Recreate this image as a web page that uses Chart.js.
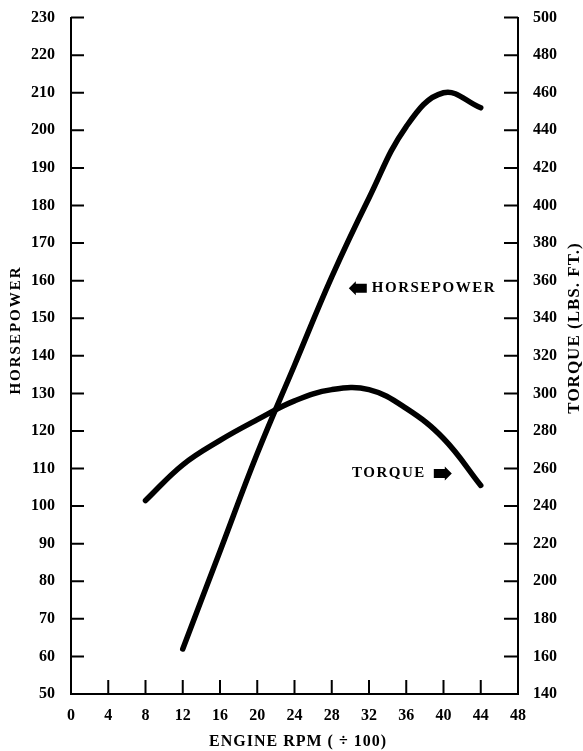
<!DOCTYPE html>
<html>
<head>
<meta charset="utf-8">
<script src="https://cdn.jsdelivr.net/npm/chart.js@4.4.1/dist/chart.umd.min.js"></script>
<style>
  html, body { margin: 0; padding: 0; background: #fff; }
  #wrap { width: 583px; height: 751px; }
</style>
</head>
<body>
<div id="wrap"><canvas id="engine"></canvas></div>
<script>
// values (rpm / 100)
const hpRpm = [12, 16, 20, 24, 28, 32, 36, 40, 44];
const hpValues = [62, 88, 114, 137.5, 161, 182, 201, 210, 206];
const torqueRpm = [8, 12, 16, 20, 24, 28, 32, 36, 40, 44];
const torqueValues = [243, 262, 275, 286, 296, 302, 302, 292, 276, 251];

const hpRange = [50, 230];
const torqueRange = [140, 500];
const rpmRange = [0, 48];

const serif = "'Liberation Serif', 'DejaVu Serif', serif";
const ink = '#000';

function pts(xs, ys) {
  return xs.map((x, i) => ({ x, y: ys[i] }));
}

function fixSize(w, h) {
  return scale => {
    if (w != null) scale.width = w;
    if (h != null) scale.height = h;
  };
}

// inward tick marks, axis titles and the two curve callouts
const decor = {
  id: 'decor',
  afterDraw(chart) {
    const { ctx, chartArea: a, scales } = chart;
    const { x, y, y1 } = scales;
    ctx.save();
    ctx.strokeStyle = ink;
    ctx.fillStyle = ink;
    ctx.lineWidth = 2;
    ctx.beginPath();
    y.ticks.forEach(t => {
      if (t.value === hpRange[0]) return;
      const py = y.getPixelForValue(t.value);
      ctx.moveTo(a.left, py); ctx.lineTo(a.left + 13, py);
    });
    y1.ticks.forEach(t => {
      if (t.value === torqueRange[0]) return;
      const py = y1.getPixelForValue(t.value);
      ctx.moveTo(a.right, py); ctx.lineTo(a.right - 14, py);
    });
    x.ticks.forEach(t => {
      if (t.value === rpmRange[0] || t.value === rpmRange[1]) return;
      const px = x.getPixelForValue(t.value);
      ctx.moveTo(px, a.bottom); ctx.lineTo(px, a.bottom - 14);
    });
    ctx.stroke();

    // axis titles
    ctx.textAlign = 'center';
    ctx.textBaseline = 'middle';
    ctx.letterSpacing = '2px';
    ctx.font = `bold 15px ${serif}`;
    ctx.save();
    ctx.translate(16, 330);
    ctx.rotate(-Math.PI / 2);
    ctx.fillText('HORSEPOWER', 0, 0);
    ctx.restore();

    ctx.letterSpacing = '1px';
    ctx.font = `bold 17px ${serif}`;
    ctx.save();
    ctx.translate(575, 328);
    ctx.rotate(-Math.PI / 2);
    ctx.fillText('TORQUE (LBS. FT.)', 0, 0);
    ctx.restore();

    ctx.font = `bold 16px ${serif}`;
    ctx.fillText('ENGINE RPM ( \u00f7 100)', 298, 742);

    // callouts
    ctx.letterSpacing = '1.5px';
    ctx.font = `bold 15px ${serif}`;
    ctx.textAlign = 'left';
    const hx = x.getPixelForValue(32.3);
    const hy = y.getPixelForValue(158);
    ctx.fillText('HORSEPOWER', hx, hy);
    blockArrow(ctx, hx - 5, hy, -1);

    ctx.textAlign = 'right';
    const tx = x.getPixelForValue(38.1);
    const ty = y.getPixelForValue(108.7);
    ctx.fillText('TORQUE', tx, ty);
    blockArrow(ctx, tx + 8, ty, 1);
    ctx.restore();
  }
};

// fat arrow, tail at (x0, yc), pointing left (dir -1) or right (dir 1)
function blockArrow(ctx, x0, yc, dir) {
  const len = 18, head = 7, bodyH = 4.5, headH = 7;
  const tip = x0 + dir * len;
  const neck = tip - dir * head;
  ctx.beginPath();
  ctx.moveTo(x0, yc - bodyH);
  ctx.lineTo(neck, yc - bodyH);
  ctx.lineTo(neck, yc - headH);
  ctx.lineTo(tip, yc);
  ctx.lineTo(neck, yc + headH);
  ctx.lineTo(neck, yc + bodyH);
  ctx.lineTo(x0, yc + bodyH);
  ctx.closePath();
  ctx.fill();
}

const tickFont = { family: serif, size: 16, weight: 'bold' };

new Chart(document.getElementById('engine'), {
  type: 'line',
  data: {
    datasets: [
      {
        label: 'Horsepower',
        data: pts(hpRpm, hpValues),
        yAxisID: 'y',
      },
      {
        label: 'Torque',
        data: pts(torqueRpm, torqueValues),
        yAxisID: 'y1',
      },
    ],
  },
  options: {
    responsive: true,
    maintainAspectRatio: false,
    animation: false,
    layout: { padding: { top: 16, left: 0, right: 0, bottom: 0 } },
    elements: {
      line: {
        borderColor: ink,
        borderWidth: 5.5,
        borderCapStyle: 'round',
        borderJoinStyle: 'round',
        tension: 0.4,
        fill: false,
      },
      point: { radius: 0, hoverRadius: 0 },
    },
    plugins: {
      legend: { display: false },
      tooltip: { enabled: false },
    },
    scales: {
      x: {
        type: 'linear',
        min: rpmRange[0],
        max: rpmRange[1],
        ticks: { stepSize: 4, color: ink, font: tickFont, padding: 4, maxRotation: 0 },
        grid: { display: false },
        border: { color: ink, width: 2 },
        afterFit: fixSize(null, 57),
      },
      y: {
        position: 'left',
        min: hpRange[0],
        max: hpRange[1],
        ticks: { stepSize: 10, color: ink, font: tickFont, padding: 8 },
        grid: { display: false },
        border: { color: ink, width: 2 },
        afterFit: fixSize(71, null),
      },
      y1: {
        position: 'right',
        min: torqueRange[0],
        max: torqueRange[1],
        ticks: { stepSize: 20, color: ink, font: tickFont, padding: 7 },
        grid: { display: false },
        border: { color: ink, width: 2 },
        afterFit: fixSize(65, null),
      },
    },
  },
  plugins: [decor],
});
</script>
</body>
</html>
